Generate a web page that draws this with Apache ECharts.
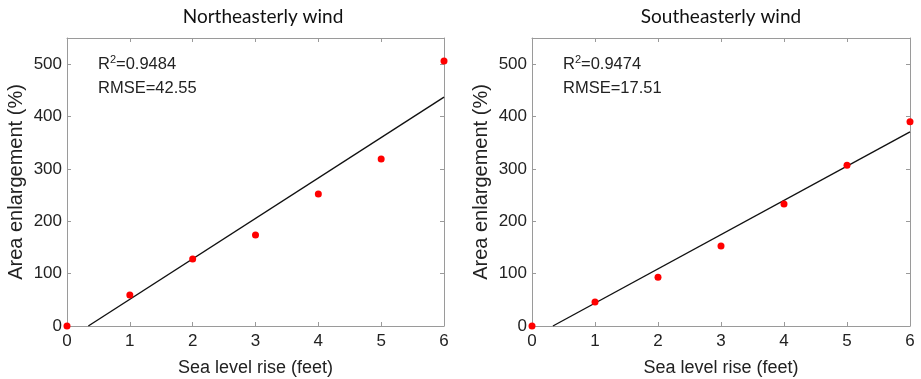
<!DOCTYPE html>
<html><head><meta charset="utf-8">
<script src="https://cdn.jsdelivr.net/npm/echarts@6/dist/echarts.min.js"></script>
<style>html,body{margin:0;padding:0;background:#fff}#c{width:921px;height:379px}</style>
</head><body><div id="c"></div>
<script>
const seaLevel = [0, 1, 2, 3, 4, 5, 6];
const neValues = [0, 59, 128, 174, 252, 319, 506];
const seValues = [0, 46, 93, 153, 233, 307, 390];
const titles = ['Northeasterly wind', 'Southeasterly wind'];
const r2Labels = ['0.9484', '0.9474'];
const rmseLabels = ['42.55', '17.51'];
const xName = 'Sea level rise (feet)';
const yName = 'Area enlargement (%)';

function fit(xs, ys) {
  const n = xs.length;
  const mx = xs.reduce((a, b) => a + b, 0) / n;
  const my = ys.reduce((a, b) => a + b, 0) / n;
  let sxy = 0, sxx = 0;
  for (let i = 0; i < n; i++) { sxy += (xs[i] - mx) * (ys[i] - my); sxx += (xs[i] - mx) ** 2; }
  const b = sxy / sxx, a = my - b * mx;
  const x0 = -a / b, x1 = xs[n - 1];
  return [[x0, 0], [x1, a + b * x1]];
}

const grids = [
  { left: 67, top: 38, width: 377, height: 288, outerBoundsMode: 'none', containLabel: false },
  { left: 532, top: 38, width: 378, height: 288, outerBoundsMode: 'none', containLabel: false }
];
const titleX = [263, 721];
const axisColor = '#9a9a9a';
const sans = 'Liberation Sans, Arial, sans-serif';
const titleFont = '19px Lato, "Open Sans", sans-serif';
const xAxes = [], yAxes = [], series = [], graphics = [];
const datasets = [neValues, seValues];

grids.forEach((g, i) => {
  const base = { gridIndex: i, type: 'value', min: 0, max: 6, interval: 1,
    axisLine: { show: true, onZero: false, lineStyle: { color: axisColor, width: 1 } },
    axisTick: { show: true, inside: true, length: 4, lineStyle: { color: axisColor } },
    splitLine: { show: false } };
  xAxes.push(Object.assign({}, base, { position: 'bottom', name: xName, nameLocation: 'middle', nameGap: 33,
    nameTextStyle: { fontFamily: sans, fontSize: 18, color: '#222' },
    axisLabel: { fontFamily: sans, fontSize: 17, color: '#222', margin: 7 } }));
  xAxes.push(Object.assign({}, base, { position: 'top', axisLabel: { show: false } }));
  const ybase = { gridIndex: i, type: 'value', min: 0, max: 550, interval: 100,
    axisLine: { show: true, onZero: false, lineStyle: { color: axisColor, width: 1 } },
    axisTick: { show: true, inside: true, length: 4, lineStyle: { color: axisColor } },
    splitLine: { show: false } };
  yAxes.push(Object.assign({}, ybase, { position: 'left', name: yName, nameLocation: 'middle', nameGap: 41,
    nameTextStyle: { fontFamily: sans, fontSize: 20, color: '#222' },
    axisLabel: { fontFamily: sans, fontSize: 17, color: '#222', margin: 5,
      formatter: v => (v % 100 === 0 && v <= 500) ? String(v) : '' } }));
  yAxes.push(Object.assign({}, ybase, { position: 'right', axisLabel: { show: false } }));

  const xi = i * 2, yi = i * 2;
  series.push({ type: 'line', xAxisIndex: xi, yAxisIndex: yi, data: fit(seaLevel, datasets[i]),
    symbol: 'none', lineStyle: { color: '#111', width: 1.4 }, clip: true, silent: true, z: 2 });
  series.push({ type: 'scatter', xAxisIndex: xi, yAxisIndex: yi,
    data: seaLevel.map((x, k) => [x, datasets[i][k]]),
    symbolSize: 7, itemStyle: { color: '#ff0000', opacity: 1 }, clip: false, z: 3 });

  graphics.push({ type: 'text', x: titleX[i], y: 17, z: 10,
    style: { text: titles[i], textAlign: 'center', textVerticalAlign: 'middle', font: titleFont, fill: '#111' } });
  graphics.push({ type: 'text', x: g.left + 31, y: 54, z: 10,
    style: { text: '{n|R}{s|2}{n|=' + r2Labels[i] + '}',
      rich: { n: { fontFamily: sans, fontSize: 16.5, fill: '#222', color: '#222', verticalAlign: 'bottom' },
              s: { fontFamily: sans, fontSize: 11, fill: '#222', color: '#222', verticalAlign: 'top', padding: [0,0,8,0] } } } });
  graphics.push({ type: 'text', x: g.left + 31, y: 80, z: 10,
    style: { text: 'RMSE=' + rmseLabels[i], font: '16.5px ' + sans, fill: '#222' } });
});

const chart = echarts.init(document.getElementById('c'));
chart.setOption({
  animation: false,
  backgroundColor: '#fff',
  grid: grids,
  xAxis: xAxes,
  yAxis: yAxes,
  series: series,
  graphic: graphics
});
</script></body></html>
